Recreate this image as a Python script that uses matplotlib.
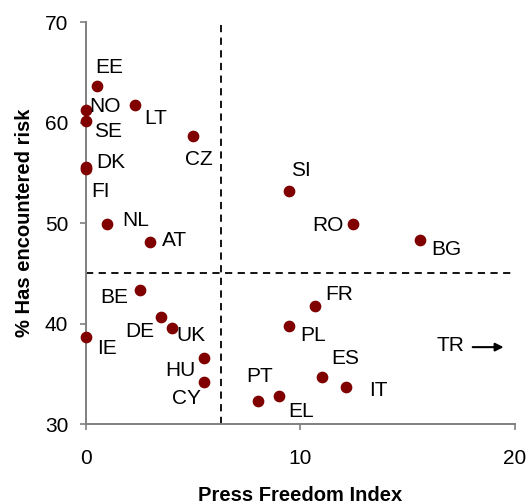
import matplotlib.pyplot as plt

plt.rcParams['font.family'] = ['Liberation Sans', 'DejaVu Sans']

countries = ['EE', 'NO', 'SE', 'LT', 'CZ', 'DK', 'FI', 'NL', 'AT', 'SI', 'RO', 'BG',
             'FR', 'PL', 'ES', 'IT', 'PT', 'EL', 'BE', 'DE', 'UK', 'IE', 'HU', 'CY']
press_freedom = [0.5, 0.0, 0.0, 2.3, 5.0, 0.0, 0.0, 1.0, 3.0, 9.45, 12.45, 15.55,
                 10.7, 9.45, 11.0, 12.1, 8.0, 9.0, 2.5, 3.5, 4.0, 0.0, 5.5, 5.5]
risk = [63.6, 61.2, 60.15, 61.7, 58.7, 55.6, 55.4, 49.9, 48.1, 53.2, 49.9, 48.3,
        41.7, 39.8, 34.7, 33.7, 32.3, 32.8, 43.3, 40.6, 39.6, 38.7, 36.6, 34.2]

x_split = 6.3
y_split = 45

# label offsets in pixels (dx, dy) relative to each point
offsets = {
    'EE': (13, 20), 'NO': (19, 5), 'SE': (22, -9.5), 'LT': (20, -12),
    'CZ': (6, -23), 'DK': (24.5, 5), 'FI': (14, -22), 'NL': (28, 5),
    'AT': (24, 3), 'SI': (12.5, 21), 'RO': (-25, 0), 'BG': (26.5, -8),
    'FR': (24, 13), 'PL': (24.5, -8.5), 'ES': (23, 19), 'IT': (33, -2.5),
    'PT': (2, 25), 'EL': (22, -15), 'BE': (-25, -6), 'DE': (-21, -13),
    'UK': (19, -7), 'IE': (21, -11), 'HU': (-24, -12), 'CY': (-18, -15.5),
}

fig = plt.figure(figsize=(5.26, 5.04), dpi=100)
ax = fig.add_axes([0.1635, 0.1587, 0.8155, 0.7976])

ax.scatter(press_freedom, risk, s=55, color='#800000', zorder=3, clip_on=False)

for name, x, y in zip(countries, press_freedom, risk):
    dx, dy = offsets[name]
    ax.annotate(name, (x, y), xytext=(dx, dy - 1), textcoords='offset pixels',
                ha='center', va='center', fontsize=15)

ax.axvline(x_split, color='black', lw=1.3, linestyle=(0, (4, 3)))
ax.axhline(y_split, color='black', lw=1.3, linestyle=(0, (4, 3)))

ax.text(17.0, 37.8, 'TR', ha='center', va='center', fontsize=15)
ax.annotate('', xy=(19.6, 37.65), xytext=(17.9, 37.65),
            arrowprops=dict(arrowstyle='-|>', color='black', lw=1.5,
                            mutation_scale=12))

ax.set_xlim(0, 20)
ax.set_ylim(30, 70)
ax.set_xticks([0, 10, 20])
ax.set_yticks([30, 40, 50, 60, 70])

for side in ['top', 'right']:
    ax.spines[side].set_visible(False)
for side in ['left', 'bottom']:
    ax.spines[side].set_color('#808080')
    ax.spines[side].set_linewidth(1.4)

ax.tick_params(axis='both', colors='#808080', labelcolor='black',
               labelsize=15, length=4.3, width=1.2)
ax.tick_params(axis='x', pad=14)
ax.tick_params(axis='y', pad=8.5)

ax.set_xlabel('Press Freedom Index', fontsize=14.5, fontweight='bold', labelpad=13)
ax.set_ylabel('% Has encountered risk', fontsize=14.5, fontweight='bold', labelpad=8)

fig.savefig('out.png', dpi=100)
